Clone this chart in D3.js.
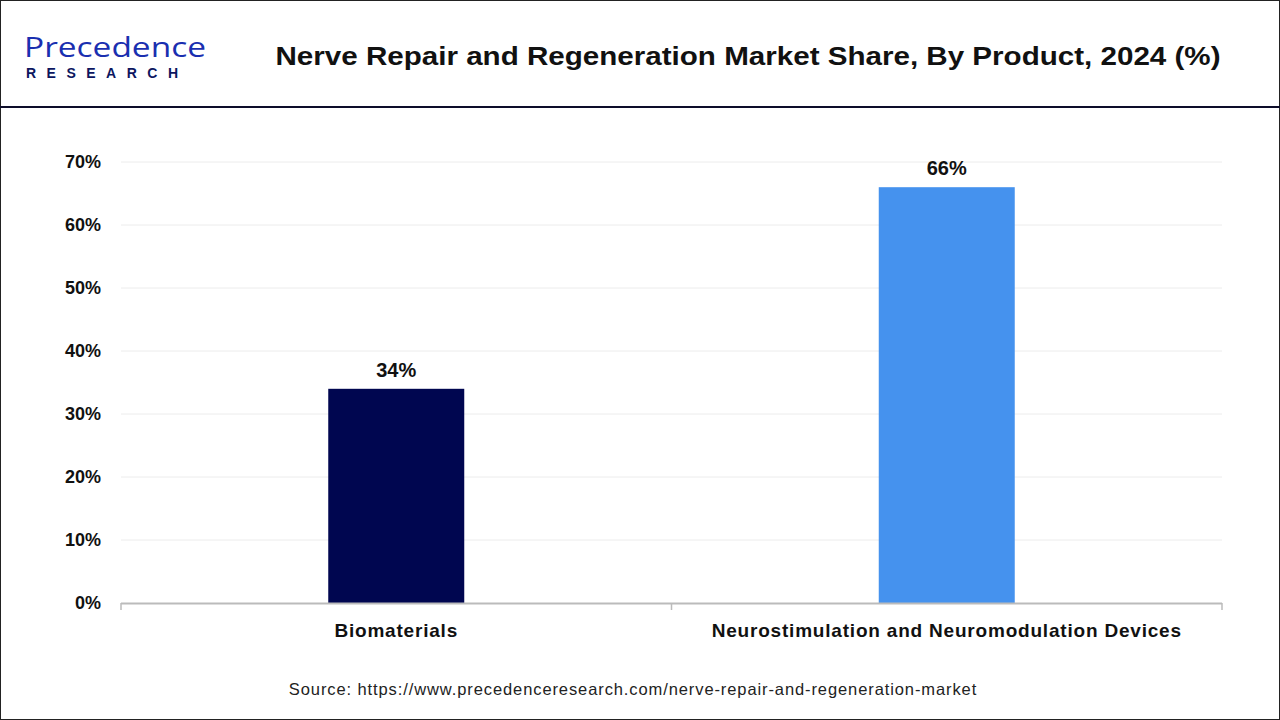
<!DOCTYPE html><html><head><meta charset="utf-8"><script src="https://cdn.jsdelivr.net/npm/d3@7"></script>
<style>body{margin:0;background:#fff}svg{display:block;font-family:'Liberation Sans',Arial,sans-serif}</style></head><body><svg id="c" width="1280" height="720"></svg>
<script>
const categories=["Biomaterials","Neurostimulation and Neuromodulation Devices"];
const values=[34,66];
const colors=["#000650","#4592EE"];
const yTicks=[0,10,20,30,40,50,60,70];
const svg=d3.select("#c");
svg.append("rect").attr("x",0.5).attr("y",0.5).attr("width",1279).attr("height",719).attr("fill","none").attr("stroke","#222");
svg.append("line").attr("x1",0).attr("x2",1280).attr("y1",107).attr("y2",107).attr("stroke","#0d0d2a").attr("stroke-width",2);
// logo
svg.append("text").attr("x",24).attr("y",57).attr("font-size",28).attr("font-family","'Open Sans',sans-serif").attr("fill","#1a2fb0").attr("font-weight",500).attr("textLength",182).attr("lengthAdjust","spacingAndGlyphs").text("Precedence");
svg.append("text").attr("x",26).attr("y",78).attr("font-size",14).attr("font-weight",700).attr("fill","#0c1660").attr("textLength",152).text("RESEARCH");
svg.append("text").attr("x",748).attr("y",65).attr("text-anchor","middle").attr("font-size",26).attr("font-weight",700).attr("fill","#111").attr("textLength",945).attr("lengthAdjust","spacingAndGlyphs").text("Nerve Repair and Regeneration Market  Share, By Product, 2024 (%)");
const x=d3.scaleBand().domain(categories).range([121,1222]).paddingInner(0).paddingOuter(0);
const y=d3.scaleLinear().domain([0,70]).range([603,162]);
const g=svg.append("g");
g.selectAll(".gl").data(yTicks.slice(1)).join("line").attr("x1",121).attr("x2",1222).attr("y1",d=>y(d)).attr("y2",d=>y(d)).attr("stroke","#ececec");
g.selectAll(".yl").data(yTicks).join("text").attr("x",101).attr("y",d=>y(d)+6).attr("text-anchor","end").attr("font-size",18).attr("font-weight",700).attr("fill","#111").text(d=>d+"%");
const bw=136;
g.selectAll(".bar").data(values).join("rect").attr("x",(d,i)=>x(categories[i])+x.bandwidth()/2-bw/2).attr("width",bw).attr("y",d=>y(d)).attr("height",d=>y(0)-y(d)).attr("fill",(d,i)=>colors[i]);
g.selectAll(".vl").data(values).join("text").attr("x",(d,i)=>x(categories[i])+x.bandwidth()/2).attr("y",d=>y(d)-12).attr("text-anchor","middle").attr("font-size",20).attr("font-weight",700).attr("fill","#111").text(d=>d+"%");
g.append("line").attr("x1",121).attr("x2",1222).attr("y1",603.5).attr("y2",603.5).attr("stroke","#bbb").attr("stroke-width",2);
[121,671.5,1222].forEach(v=>g.append("line").attr("x1",v).attr("x2",v).attr("y1",603).attr("y2",610).attr("stroke","#bbb").attr("stroke-width",1.5));
g.selectAll(".xl").data(categories).join("text").attr("x",d=>x(d)+x.bandwidth()/2).attr("y",637).attr("text-anchor","middle").attr("font-size",19).attr("letter-spacing",0.8).attr("font-weight",700).attr("fill","#111").text(d=>d);
svg.append("text").attr("x",633).attr("y",695).attr("text-anchor","middle").attr("font-size",16.5).attr("letter-spacing",0.9).attr("fill","#222").text("Source: https://www.precedenceresearch.com/nerve-repair-and-regeneration-market");
</script></body></html>
